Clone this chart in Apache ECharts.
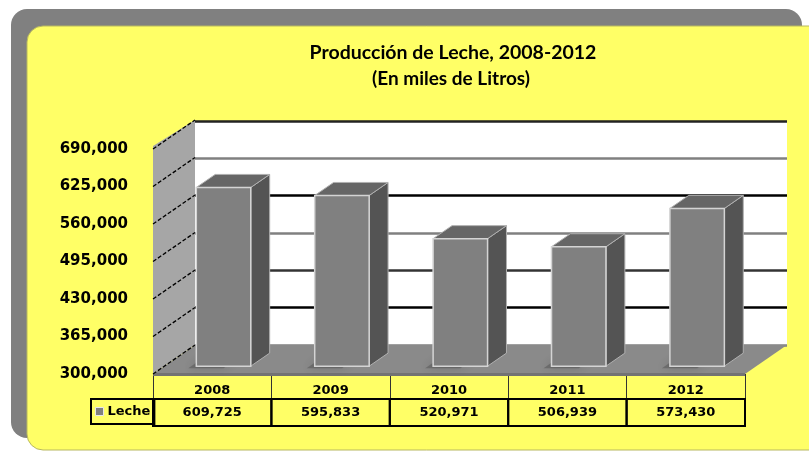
<!DOCTYPE html>
<html>
<head>
  <meta charset="utf-8">
  <script src="https://cdn.jsdelivr.net/npm/echarts@6/dist/echarts.min.js"></script>
  <title>Producción de Leche</title>
  <style>
    html, body { margin: 0; padding: 0; background: #fff; }
    #main { width: 809px; height: 451px; }
  </style>
</head>
<body>
<div id="main"></div>
<script type="text/javascript">
  // datos
  var years = ['2008', '2009', '2010', '2011', '2012'];
  var leche = [609725, 595833, 520971, 506939, 573430];
  var axisMin = 300000;   // primer valor del eje
  var axisMax = 690000;
  var axisStep = 65000;

  var chart = echarts.init(document.getElementById('main'));

  // profundidad 3D (en pixeles): el plano trasero esta arriba a la derecha
  var DX = 42, DY = -29;
  var fmt = function (v) { return v.toLocaleString('en-US'); };
  // el eje se cuenta desde 0, para que las marcas caigan en 300,000 + k*65,000
  var shifted = leche.map(function (v) { return v - axisMin; });

  var boldFont = 'DejaVu Sans';

  var option = {
    backgroundColor: '#ffffff',
    animation: false,
    graphic: [
      { type: 'rect', z: -10, shape: { x: 11, y: 9, width: 791, height: 429, r: 16 },
        style: { fill: '#808080' } },
      { type: 'rect', z: -9, shape: { x: 27, y: 26, width: 800, height: 424, r: 16 },
        style: { fill: '#ffff66', stroke: '#b8b860', lineWidth: 1 } }
    ],
    title: [{
      text: 'Producción de Leche, 2008-2012',
      left: 448, top: 38, textAlign: 'center',
      textStyle: { fontFamily: 'Lato', fontWeight: 'bold', fontSize: 19.5, color: '#000' }
    }, {
      text: '(En miles de Litros)',
      left: 446, top: 64, textAlign: 'center',
      textStyle: { fontFamily: 'Lato', fontWeight: 'bold', fontSize: 19, color: '#000' }
    }],
    legend: {
      data: ['Leche'],
      left: 91, top: 399,
      padding: [6, 4, 6, 4],
      borderColor: '#000', borderWidth: 2,
      icon: 'rect', itemWidth: 8, itemHeight: 8, itemGap: 4,
      itemStyle: { borderColor: '#e8e8e8', borderWidth: 1 },
      textStyle: { fontFamily: boldFont, fontWeight: 'bold', fontSize: 13, color: '#000', padding: [0, 0, 0, -1] }
    },
    grid: [
      // pared del fondo
      { left: 195, right: 22, top: 121, bottom: 106, show: true, backgroundColor: '#ffffff', borderWidth: 0 },
      // plano frontal
      { left: 153, right: 64, top: 149, bottom: 77 }
    ],
    xAxis: [
      { gridIndex: 0, type: 'category', data: years, show: false },
      { gridIndex: 1, type: 'category', data: years,
        axisLine: { show: false },
        axisTick: { show: true, length: 25, lineStyle: { color: '#333', width: 1 } },
        axisLabel: { margin: 10, fontFamily: boldFont, fontWeight: 'bold', fontSize: 13, color: '#000' }
      }
    ],
    yAxis: [
      { gridIndex: 0, type: 'value', min: 0, max: axisMax - axisMin, interval: axisStep,
        axisLabel: { show: false }, axisLine: { show: false }, axisTick: { show: false },
        splitLine: { show: true, lineStyle: { width: 2.5,
          color: ['#808080', '#000000', '#333333', '#808080', '#000000', '#808080', '#222222'] } }
      },
      { gridIndex: 1, type: 'value', min: 0, max: axisMax - axisMin, interval: axisStep,
        axisLine: { show: false }, axisTick: { show: false }, splitLine: { show: false },
        axisLabel: {
          margin: 25, fontFamily: boldFont, fontWeight: 'bold', fontSize: 15, color: '#000',
          padding: [6, 0, 0, 0],
          formatter: function (v) { return fmt(v + axisMin); }
        }
      }
    ],
    series: [
      {
        // piso y pared izquierda
        type: 'custom', name: 'walls', xAxisIndex: 1, yAxisIndex: 1, z: 1, silent: true,
        data: [[0, 0]],
        renderItem: function (params, api) {
          var cs = params.coordSys;
          var x = cs.x, y = cs.y, w = cs.width, h = cs.height, b = y + h;
          var children = [
            { type: 'polygon', shape: { points: [[x, b], [x + w, b], [x + w + DX, b + DY], [x + DX, b + DY]] },
              style: { fill: '#8a8a8a' } },
            { type: 'rect', shape: { x: x, y: b - 1, width: w, height: 3 }, style: { fill: '#737373' } },
            { type: 'polygon', shape: { points: [[x, b], [x, y - 3], [x + DX, y + DY], [x + DX, b + DY]] },
              style: { fill: '#a6a6a6' } }
          ];
          for (var t = 0; t <= axisMax - axisMin; t += axisStep) {
            var py = api.coord([0, t])[1];
            children.push({ type: 'line', shape: { x1: x, y1: py, x2: x + DX, y2: py + DY },
              style: { stroke: '#000', lineWidth: 1.3, lineDash: [4, 2] } });
          }
          return { type: 'group', children: children };
        }
      },
      {
        // barras 3D
        type: 'custom', name: 'Leche', xAxisIndex: 1, yAxisIndex: 1, z: 3,
        itemStyle: { color: '#808080' },
        data: shifted.map(function (v, i) { return [i, v]; }),
        renderItem: function (params, api) {
          var i = api.value(0);
          var top = api.coord([i, api.value(1)]);
          var base = api.coord([i, 0]);
          var bw = api.size([1, 0])[0] * 0.46;
          var f1 = 0.27, fd = 0.45;
          var x0 = top[0] + DX * f1 - bw / 2, x1 = x0 + bw;
          var yT = top[1] + DY * f1, yB = base[1] + DY * f1;
          var dx = DX * fd, dy = DY * fd;
          return { type: 'group', children: [
            { type: 'polygon', shape: { points: [[x0 - 8, yB + 2], [x0 + bw * 0.5, yB + 2], [x0 + bw * 0.5 + dx, yB + dy + 2], [x0 - 8 + dx, yB + dy + 2]] },
              style: { fill: 'rgba(60,60,60,0.35)', shadowBlur: 8, shadowColor: 'rgba(0,0,0,0.4)' } },
            { type: 'polygon', shape: { points: [[x1, yT], [x1 + dx, yT + dy], [x1 + dx, yB + dy], [x1, yB]] },
              style: { fill: '#545454', stroke: '#b0b0b0', lineWidth: 1 } },
            { type: 'polygon', shape: { points: [[x0, yT], [x1, yT], [x1 + dx, yT + dy], [x0 + dx, yT + dy]] },
              style: { fill: '#666666', stroke: '#b0b0b0', lineWidth: 1 } },
            { type: 'rect', shape: { x: x0, y: yT, width: bw, height: yB - yT },
              style: { fill: '#808080', stroke: '#d4d4d4', lineWidth: 1.5 } }
          ] };
        }
      },
      {
        // fila de la tabla de datos
        type: 'custom', name: 'tabla', xAxisIndex: 1, yAxisIndex: 1, z: 4, silent: true,
        data: leche.map(function (v, i) { return [i, v]; }),
        renderItem: function (params, api) {
          var i = api.value(0);
          var base = api.coord([i, 0]);
          var cw = api.size([1, 0])[0];
          var left = base[0] - cw / 2;
          var rowTop = base[1] + 25;
          return { type: 'group', children: [
            { type: 'rect', shape: { x: left, y: rowTop, width: cw, height: 27 },
              style: { fill: 'none', stroke: '#000', lineWidth: 2 } },
            { type: 'text', x: base[0], y: rowTop + 14,
              style: { text: fmt(api.value(1)), align: 'center', verticalAlign: 'middle',
                font: 'bold 13px "DejaVu Sans"', fill: '#000' } }
          ] };
        }
      }
    ]
  };

  chart.setOption(option);

  window.addEventListener('resize', function () {
    chart.resize();
  });
</script>
</body>
</html>
